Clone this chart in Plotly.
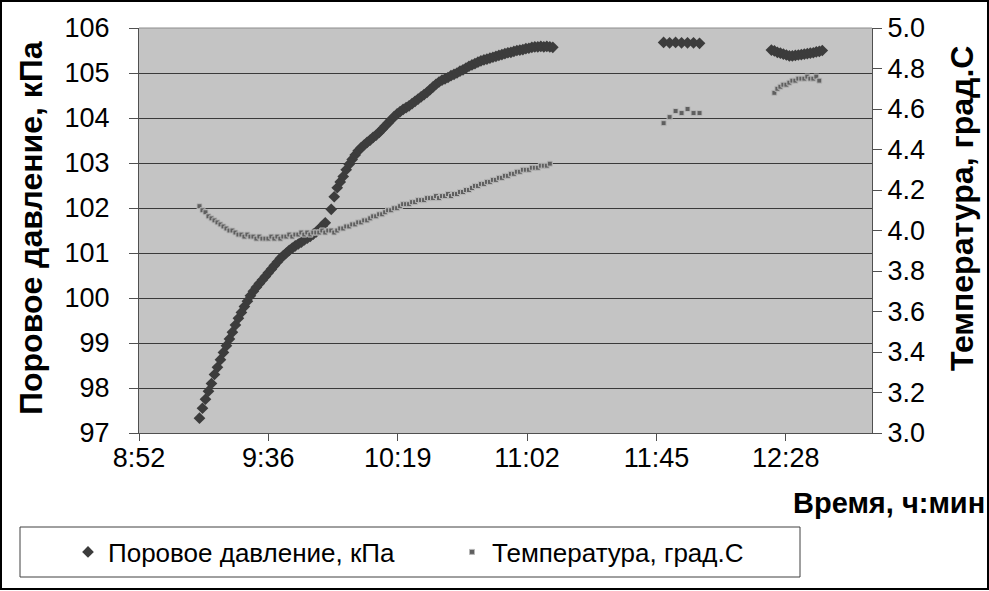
import pandas as pd
import plotly.graph_objects as go

# Поровое давление, кПа
press_time = [
    "9:13", "9:14", "9:15", "9:16", "9:17", "9:18", "9:19", "9:20", "9:21", "9:22",
    "9:23", "9:24", "9:25", "9:26", "9:27", "9:28", "9:29", "9:30", "9:31", "9:32",
    "9:33", "9:34", "9:35", "9:36", "9:37", "9:38", "9:39", "9:40", "9:41", "9:42",
    "9:43", "9:44", "9:45", "9:46", "9:47", "9:48", "9:49", "9:50", "9:51", "9:52",
    "9:53", "9:54", "9:55", "9:57", "9:58", "9:59", "10:00", "10:01", "10:02", "10:03",
    "10:04", "10:05", "10:06", "10:07", "10:08", "10:09", "10:10", "10:11", "10:12", "10:13",
    "10:14", "10:15", "10:16", "10:17", "10:18", "10:19", "10:20", "10:21", "10:22", "10:23",
    "10:24", "10:25", "10:26", "10:27", "10:28", "10:29", "10:30", "10:31", "10:32", "10:33",
    "10:34", "10:35", "10:36", "10:37", "10:38", "10:39", "10:40", "10:41", "10:42", "10:43",
    "10:44", "10:45", "10:46", "10:47", "10:48", "10:49", "10:50", "10:51", "10:52", "10:53",
    "10:54", "10:55", "10:56", "10:57", "10:58", "10:59", "11:00", "11:01", "11:02", "11:03",
    "11:04", "11:05", "11:06", "11:07", "11:08", "11:09", "11:10", "11:11",
    "11:48", "11:50", "11:52", "11:54", "11:56", "11:58", "12:00",
    "12:24", "12:25", "12:26", "12:27", "12:28", "12:29", "12:30", "12:31", "12:32", "12:33",
    "12:34", "12:35", "12:36", "12:37", "12:38", "12:39", "12:40", "12:41",
]
press_val = [
    97.33, 97.55, 97.75, 97.93, 98.10, 98.30, 98.46, 98.63, 98.79, 98.94,
    99.09, 99.24, 99.40, 99.55, 99.68, 99.81, 99.93, 100.05, 100.15, 100.24,
    100.32, 100.40, 100.48, 100.56, 100.64, 100.72, 100.80, 100.88, 100.94, 101.00,
    101.06, 101.11, 101.16, 101.20, 101.24, 101.29, 101.33, 101.37, 101.42, 101.47,
    101.53, 101.60, 101.67, 101.97, 102.25, 102.45, 102.58, 102.70, 102.85, 102.97,
    103.08, 103.18, 103.27, 103.34, 103.40, 103.46, 103.51, 103.57, 103.62, 103.68,
    103.75, 103.82, 103.89, 103.96, 104.03, 104.09, 104.14, 104.19, 104.23, 104.27,
    104.32, 104.37, 104.42, 104.47, 104.52, 104.57, 104.63, 104.69, 104.75, 104.80,
    104.84, 104.87, 104.90, 104.94, 104.97, 105.00, 105.04, 105.07, 105.11, 105.15,
    105.18, 105.21, 105.24, 105.27, 105.29, 105.31, 105.33, 105.35, 105.37, 105.39,
    105.41, 105.43, 105.45, 105.46, 105.48, 105.50, 105.51, 105.52, 105.54, 105.55,
    105.57, 105.58, 105.58, 105.59, 105.58, 105.59, 105.58, 105.57,
    105.68, 105.67, 105.68, 105.67, 105.67, 105.67, 105.66,
    105.51, 105.49, 105.46, 105.44, 105.42, 105.40, 105.38, 105.38, 105.39, 105.40,
    105.41, 105.42, 105.43, 105.44, 105.45, 105.47, 105.48, 105.50,
]

# Температура, град.С
temp_time = [
    "9:13", "9:14", "9:15", "9:16", "9:17", "9:18", "9:19", "9:20", "9:21", "9:22",
    "9:23", "9:24", "9:25", "9:26", "9:27", "9:28", "9:29", "9:30", "9:31", "9:32",
    "9:33", "9:34", "9:35", "9:36", "9:37", "9:38", "9:39", "9:40", "9:41", "9:42",
    "9:43", "9:44", "9:45", "9:46", "9:47", "9:48", "9:49", "9:50", "9:51", "9:52",
    "9:53", "9:54", "9:55", "9:56", "9:57", "9:58", "9:59", "10:00", "10:01", "10:02",
    "10:03", "10:04", "10:05", "10:06", "10:07", "10:08", "10:09", "10:10", "10:11", "10:12",
    "10:13", "10:14", "10:15", "10:16", "10:17", "10:18", "10:19", "10:20", "10:21", "10:22",
    "10:23", "10:24", "10:25", "10:26", "10:27", "10:28", "10:29", "10:30", "10:31", "10:32",
    "10:33", "10:34", "10:35", "10:36", "10:37", "10:38", "10:39", "10:40", "10:41", "10:42",
    "10:43", "10:44", "10:45", "10:46", "10:47", "10:48", "10:49", "10:50", "10:51", "10:52",
    "10:53", "10:54", "10:55", "10:56", "10:57", "10:58", "10:59", "11:00", "11:01", "11:02",
    "11:03", "11:04", "11:05", "11:06", "11:07", "11:08", "11:09", "11:10",
    "11:48", "11:50", "11:52", "11:54", "11:56", "11:58", "12:00",
    "12:25", "12:26", "12:27", "12:28", "12:29", "12:30", "12:31", "12:32", "12:33", "12:34",
    "12:35", "12:36", "12:37", "12:38", "12:39", "12:40",
]
temp_val = [
    4.12, 4.10, 4.09, 4.07, 4.06, 4.05, 4.04, 4.03, 4.02, 4.01,
    4.00, 4.00, 3.99, 3.98, 3.98, 3.97, 3.98, 3.97, 3.97, 3.96,
    3.97, 3.96, 3.96, 3.96, 3.97, 3.96, 3.97, 3.96, 3.97, 3.97,
    3.98, 3.97, 3.98, 3.98, 3.99, 3.98, 3.99, 3.98, 3.99, 3.99,
    3.99, 4.00, 3.99, 4.00, 4.00, 3.99, 4.00, 4.01, 4.01, 4.02,
    4.02, 4.03, 4.03, 4.04, 4.04, 4.05, 4.05, 4.06, 4.07, 4.07,
    4.08, 4.08, 4.09, 4.10, 4.10, 4.11, 4.11, 4.12, 4.13, 4.13,
    4.13, 4.14, 4.14, 4.15, 4.15, 4.15, 4.16, 4.16, 4.16, 4.17,
    4.16, 4.17, 4.17, 4.18, 4.17, 4.18, 4.18, 4.19, 4.19, 4.20,
    4.20, 4.21, 4.22, 4.22, 4.23, 4.23, 4.24, 4.24, 4.25, 4.25,
    4.26, 4.26, 4.27, 4.27, 4.28, 4.28, 4.29, 4.29, 4.30, 4.30,
    4.30, 4.31, 4.31, 4.31, 4.32, 4.32, 4.32, 4.33,
    4.53, 4.56, 4.59, 4.58, 4.60, 4.58, 4.58,
    4.68, 4.70, 4.71, 4.72, 4.72, 4.73, 4.74, 4.74, 4.75, 4.75,
    4.75, 4.76, 4.75, 4.75, 4.76, 4.74,
]

# деления оси времени (шаг 0,03 сут)
tick_times = ["08:52:48", "09:36:00", "10:19:12", "11:02:24", "11:45:36", "12:28:48"]
tick_labels = ["8:52", "9:36", "10:19", "11:02", "11:45", "12:28"]
x_range = ["08:52:48", "12:57:36"]


def to_dt(t):
    return pd.to_datetime("2000-01-01 " + pd.Series(t))


W, H = 989, 591
ML, MR, MT, MB = 139, 117, 28, 158
PW, PH = W - ML - MR, H - MT - MB


def px(x):
    return (x - ML) / PW


def py(y):
    return (H - MB - y) / PH


FONT = "Liberation Sans, Arial, sans-serif"

fig = go.Figure()
fig.add_trace(go.Scatter(
    x=to_dt(press_time), y=press_val,
    mode='markers',
    name='Поровое давление, кПа',
    marker=dict(symbol='diamond', size=9, color='#3c3c3c'),
))
fig.add_trace(go.Scatter(
    x=to_dt(temp_time), y=temp_val,
    mode='markers',
    name='Температура, град.С',
    yaxis='y2',
    marker=dict(symbol='square', size=5, color='#5f5f5f',
                line=dict(color='#b8b8b8', width=1)),
))

fig.update_layout(
    width=W, height=H,
    margin=dict(l=ML, r=MR, t=MT, b=MB, pad=0),
    paper_bgcolor='white',
    plot_bgcolor='#c4c4c4',
    font=dict(family=FONT, size=27, color='black'),
    xaxis=dict(
        type='date',
        range=list(to_dt(x_range)),
        tickvals=list(to_dt(tick_times)),
        ticktext=tick_labels,
        showgrid=False, zeroline=False,
        showline=True, linecolor='#505050', linewidth=1,
        ticks='outside', ticklen=7, tickcolor='#505050',
        ticklabelstandoff=-6,
    ),
    yaxis=dict(
        range=[97, 106], dtick=1,
        showgrid=True, gridcolor='#3a3a3a', gridwidth=1,
        zeroline=False,
        showline=True, linecolor='#505050', linewidth=1,
        ticks='outside', ticklen=9, tickcolor='#505050',
        ticklabelstandoff=14,
    ),
    yaxis2=dict(
        range=[3.0, 5.0], dtick=0.2, tickformat='.1f',
        overlaying='y', side='right',
        showgrid=False, zeroline=False,
        showline=True, linecolor='#505050', linewidth=1,
        ticks='outside', ticklen=9, tickcolor='#505050',
    ),
    legend=dict(
        orientation='h',
        x=px(68), y=py(552), xanchor='left', yanchor='middle',
        font=dict(size=26),
        entrywidth=339, entrywidthmode='pixels',
        bgcolor='rgba(0,0,0,0)', borderwidth=0,
    ),
    annotations=[
        dict(text='<b>Поровое давление, кПа</b>', textangle=-90,
             x=px(31), y=py(228), xref='paper', yref='paper',
             xanchor='center', yanchor='middle',
             showarrow=False, font=dict(size=32)),
        dict(text='<b>Температура, град.С</b>', textangle=-90,
             x=px(962), y=py(209), xref='paper', yref='paper',
             xanchor='center', yanchor='middle',
             showarrow=False, font=dict(size=32)),
        dict(text='<b>Время, ч:мин</b>',
             x=px(987), y=py(503), xref='paper', yref='paper',
             xanchor='right', yanchor='middle',
             showarrow=False, font=dict(size=29)),
    ],
    shapes=[
        # рамка диаграммы
        dict(type='rect', xref='paper', yref='paper',
             x0=px(1), x1=px(988), y0=py(589), y1=py(1),
             line=dict(color='black', width=2)),
        # рамка легенды
        dict(type='rect', xref='paper', yref='paper',
             x0=px(20), x1=px(800), y0=py(577), y1=py(527),
             line=dict(color='#404040', width=1)),
        # верхняя граница области построения
        dict(type='line', xref='paper', yref='paper',
             x0=0, x1=1, y0=1, y1=1,
             line=dict(color='#8c8c8c', width=1)),
    ],
)

fig.write_html("out.html", config=dict(displayModeBar=False),
               post_script="document.body.style.margin = '0px';")
